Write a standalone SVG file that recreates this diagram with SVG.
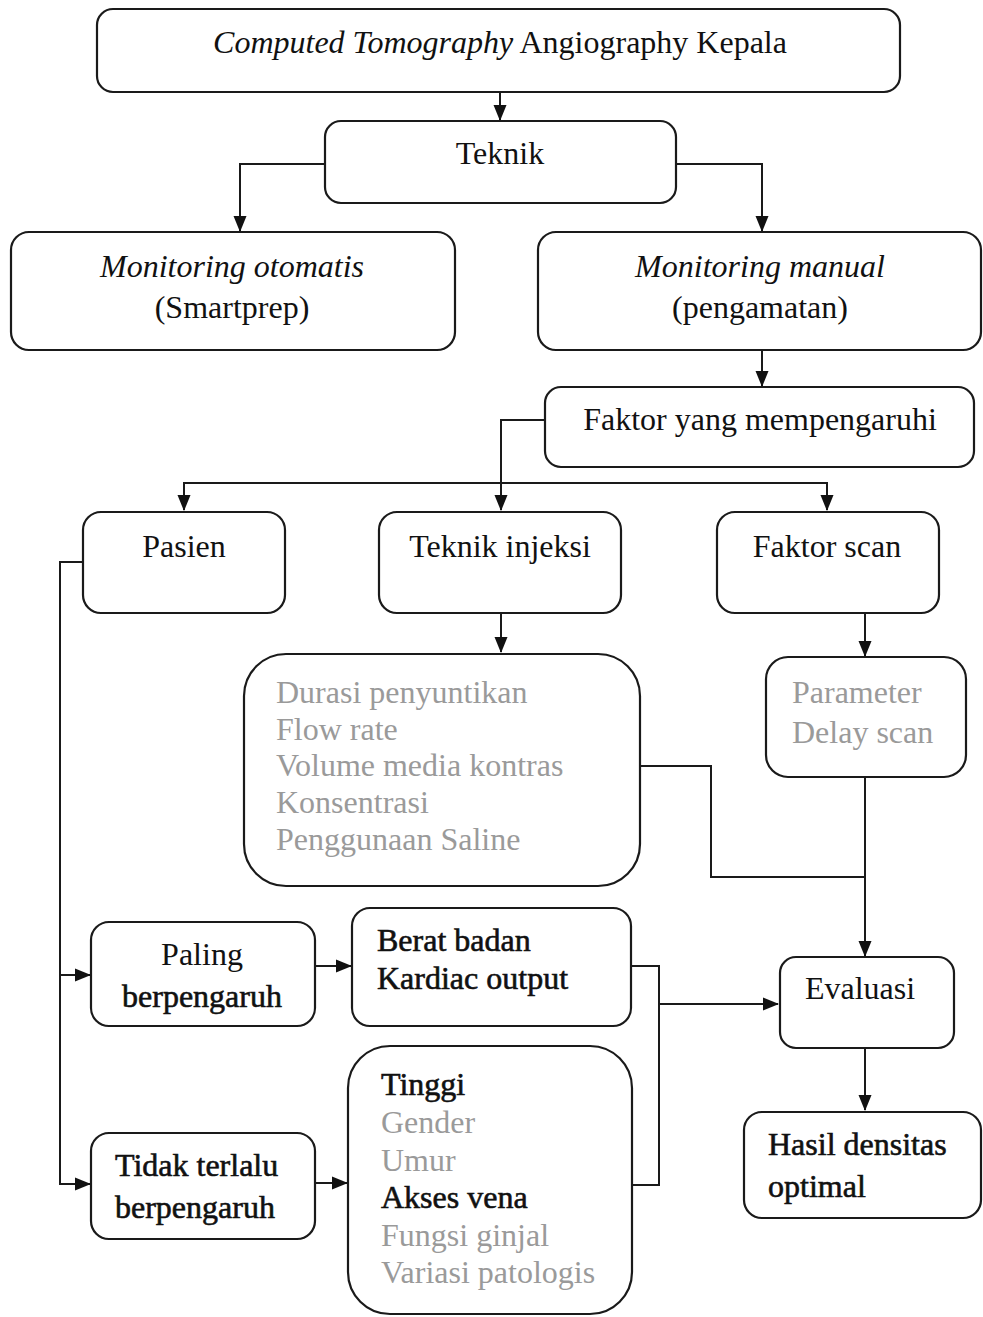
<svg xmlns="http://www.w3.org/2000/svg" width="983" height="1317" viewBox="0 0 983 1317">
<defs>
<marker id="arr" markerUnits="userSpaceOnUse" markerWidth="16" markerHeight="14" refX="15" refY="7" orient="auto">
<path d="M0,0.5 L16,7 L0,13.5 Z" fill="#111"/>
</marker>
<style>
.box{fill:#fff;stroke:#1a1a1a;stroke-width:2.2}
.t{font-family:"Liberation Serif","Times New Roman",serif;font-size:32px;fill:#111}
.c{text-anchor:middle}
.i{font-style:italic}
.g{fill:#9a9a9a}
.b{stroke:#111;stroke-width:0.6}
.ln{fill:none;stroke:#1a1a1a;stroke-width:2}
</style>
</defs>
<rect width="983" height="1317" fill="#fff"/>
<g id="connectors">
<path class="ln" d="M500,92 V120" marker-end="url(#arr)"/>
<path class="ln" d="M325,164 H240 V231" marker-end="url(#arr)"/>
<path class="ln" d="M676,164 H762 V231" marker-end="url(#arr)"/>
<path class="ln" d="M762,350 V386" marker-end="url(#arr)"/>
<path class="ln" d="M545,420 H501 V510" marker-end="url(#arr)"/>
<path class="ln" d="M184,508 V483 H827 V510" marker-end="url(#arr)"/>
<path class="ln" d="M184,483 V510" marker-end="url(#arr)"/>
<path class="ln" d="M501,613 V652" marker-end="url(#arr)"/>
<path class="ln" d="M865,613 V656" marker-end="url(#arr)"/>
<path class="ln" d="M640,766 H711 V877 H865"/>
<path class="ln" d="M865,777 V956" marker-end="url(#arr)"/>
<path class="ln" d="M83,562 H60 V1184 H90" marker-end="url(#arr)"/>
<path class="ln" d="M60,975 H90" marker-end="url(#arr)"/>
<path class="ln" d="M315,966 H351" marker-end="url(#arr)"/>
<path class="ln" d="M315,1183 H347" marker-end="url(#arr)"/>
<path class="ln" d="M630,966 H659 V1185 H631"/>
<path class="ln" d="M659,1004 H778" marker-end="url(#arr)"/>
<path class="ln" d="M865,1048 V1110" marker-end="url(#arr)"/>
</g>
<g id="n-cta">
<rect class="box" x="97" y="9" width="803" height="83" rx="16"/>
<text class="t c" x="500" y="53"><tspan class="i">Computed Tomography</tspan> Angiography Kepala</text>
</g>
<g id="n-teknik">
<rect class="box" x="325" y="121" width="351" height="82" rx="16"/>
<text class="t c" x="500" y="164">Teknik</text>
</g>
<g id="n-otomatis">
<rect class="box" x="11" y="232" width="444" height="118" rx="18"/>
<text class="t c i" x="232" y="277">Monitoring otomatis</text>
<text class="t c" x="232" y="318">(Smartprep)</text>
</g>
<g id="n-manual">
<rect class="box" x="538" y="232" width="443" height="118" rx="18"/>
<text class="t c i" x="760" y="277">Monitoring manual</text>
<text class="t c" x="760" y="318">(pengamatan)</text>
</g>
<g id="n-faktor">
<rect class="box" x="545" y="387" width="429" height="80" rx="16"/>
<text class="t c" x="760" y="430">Faktor yang mempengaruhi</text>
</g>
<g id="n-pasien">
<rect class="box" x="83" y="512" width="202" height="101" rx="18"/>
<text class="t c" x="184" y="557">Pasien</text>
</g>
<g id="n-injeksi">
<rect class="box" x="379" y="512" width="242" height="101" rx="18"/>
<text class="t c" x="500" y="557">Teknik injeksi</text>
</g>
<g id="n-scan">
<rect class="box" x="717" y="512" width="222" height="101" rx="18"/>
<text class="t c" x="827" y="557">Faktor scan</text>
</g>
<g id="n-durasi">
<rect class="box" x="244" y="654" width="396" height="232" rx="42"/>
<text class="t g" x="276" y="703">Durasi penyuntikan</text>
<text class="t g" x="276" y="740">Flow rate</text>
<text class="t g" x="276" y="776">Volume media kontras</text>
<text class="t g" x="276" y="813">Konsentrasi</text>
<text class="t g" x="276" y="850">Penggunaan Saline</text>
</g>
<g id="n-parameter">
<rect class="box" x="766" y="657" width="200" height="120" rx="22"/>
<text class="t g" x="792" y="703">Parameter</text>
<text class="t g" x="792" y="743">Delay scan</text>
</g>
<g id="n-paling">
<rect class="box" x="91" y="922" width="224" height="104" rx="18"/>
<text class="t c" x="202" y="965">Paling</text>
<text class="t c b" x="202" y="1007">berpengaruh</text>
</g>
<g id="n-berat">
<rect class="box" x="352" y="908" width="279" height="118" rx="18"/>
<text class="t b" x="377" y="951">Berat badan</text>
<text class="t b" x="377" y="989">Kardiac output</text>
</g>
<g id="n-evaluasi">
<rect class="box" x="780" y="957" width="174" height="91" rx="16"/>
<text class="t c" x="860" y="999">Evaluasi</text>
</g>
<g id="n-tidak">
<rect class="box" x="91" y="1133" width="224" height="106" rx="18"/>
<text class="t b" x="115" y="1176">Tidak terlalu</text>
<text class="t b" x="115" y="1218">berpengaruh</text>
</g>
<g id="n-tinggi">
<rect class="box" x="348" y="1046" width="284" height="268" rx="42"/>
<text class="t b" x="381" y="1095">Tinggi</text>
<text class="t g" x="381" y="1133">Gender</text>
<text class="t g" x="381" y="1171">Umur</text>
<text class="t b" x="381" y="1208">Akses vena</text>
<text class="t g" x="381" y="1246">Fungsi ginjal</text>
<text class="t g" x="381" y="1283">Variasi patologis</text>
</g>
<g id="n-hasil">
<rect class="box" x="744" y="1112" width="237" height="106" rx="18"/>
<text class="t b" x="768" y="1155">Hasil densitas</text>
<text class="t b" x="768" y="1197">optimal</text>
</g>
</svg>
